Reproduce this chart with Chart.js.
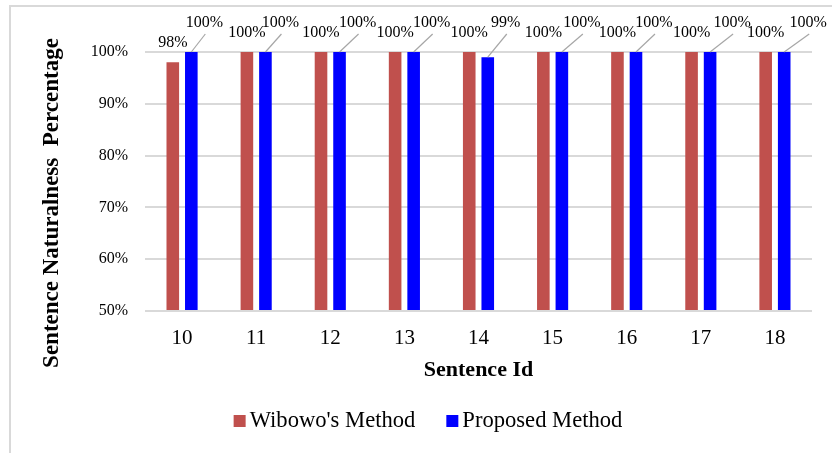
<!DOCTYPE html>
<html>
<head>
<meta charset="utf-8">
<script src="https://cdn.jsdelivr.net/npm/chart.js@4.4.1/dist/chart.umd.min.js"></script>
<style>
  html, body { margin: 0; padding: 0; background: #fff; }
  #wrap { position: relative; width: 832px; height: 453px; }
</style>
</head>
<body>
<div id="wrap"><canvas id="chart" width="832" height="453"></canvas></div>
<script>
const sentenceIds = ["10", "11", "12", "13", "14", "15", "16", "17", "18"];
const wibowoValues = [98, 100, 100, 100, 100, 100, 100, 100, 100];
const proposedValues = [100, 100, 100, 100, 99, 100, 100, 100, 100];
const yTicks = [50, 60, 70, 80, 90, 100];

const seriesNames = ["Wibowo's Method", "Proposed Method"];
const seriesColors = ["#C0504D", "#0000FF"];

// how far each blue callout label sits to the right of its bar (px)
const calloutShift = [13, 15, 18, 18, 18, 20, 18, 22, 24];

const serif = "'Liberation Serif', 'Times New Roman', serif";

// draws frame, rotated y title, value labels with leader lines and the legend
const decorPlugin = {
  id: "decor",
  beforeDraw(chart) {
    const ctx = chart.ctx;
    ctx.save();
    ctx.strokeStyle = "#d9d9d9";
    ctx.lineWidth = 2;
    ctx.strokeRect(10, 6, 840, 460);
    ctx.restore();
  },
  afterDatasetsDraw(chart) {
    const ctx = chart.ctx;
    const area = chart.chartArea;
    ctx.save();
    ctx.font = "16px " + serif;
    ctx.fillStyle = "#000";
    ctx.textAlign = "center";
    ctx.textBaseline = "alphabetic";

    // red labels straight above bars
    chart.getDatasetMeta(0).data.forEach((bar, i) => {
      ctx.fillText(wibowoValues[i] + "%", bar.x, bar.y - 15);
    });

    // blue labels moved up-right with a leader line
    chart.getDatasetMeta(1).data.forEach((bar, i) => {
      const lx = bar.x + calloutShift[i];
      const ly = area.top - 25;
      ctx.strokeStyle = "#a6a6a6";
      ctx.lineWidth = 1.2;
      ctx.beginPath();
      ctx.moveTo(bar.x, bar.y);
      ctx.lineTo(lx + 1, area.top - 18);
      ctx.stroke();
      ctx.fillText(proposedValues[i] + "%", lx, ly);
    });
    ctx.restore();
  },
  afterDraw(chart) {
    const ctx = chart.ctx;
    ctx.save();
    // y axis title
    ctx.font = "bold 23px " + serif;
    ctx.fillStyle = "#000";
    ctx.translate(58, 203);
    ctx.rotate(-Math.PI / 2);
    ctx.textAlign = "center";
    ctx.textBaseline = "alphabetic";
    ctx.fillText("Sentence Naturalness  Percentage", 0, 0);
    ctx.restore();

    // legend
    ctx.save();
    ctx.font = "22.6px " + serif;
    ctx.textBaseline = "alphabetic";
    const widths = seriesNames.map((n) => ctx.measureText(n).width);
    const total = widths[0] + widths[1] + 2 * (12 + 4) + 31;
    let x = 428 - total / 2;
    seriesNames.forEach((name, i) => {
      ctx.fillStyle = seriesColors[i];
      ctx.fillRect(x, 415, 12, 12);
      ctx.fillStyle = "#000";
      ctx.fillText(name, x + 16, 427);
      x += 16 + widths[i] + 31;
    });
    ctx.restore();
  },
};

new Chart(document.getElementById("chart"), {
  type: "bar",
  data: {
    labels: sentenceIds,
    datasets: [
      {
        label: seriesNames[0],
        data: wibowoValues,
        backgroundColor: seriesColors[0],
        base: yTicks[0],
      },
      {
        label: seriesNames[1],
        data: proposedValues,
        backgroundColor: seriesColors[1],
        base: yTicks[0],
      },
    ],
  },
  options: {
    responsive: false,
    animation: false,
    layout: { padding: { left: 91, right: 20, top: 52, bottom: 69 } },
    datasets: {
      bar: { categoryPercentage: 0.5, barPercentage: 0.68 },
    },
    plugins: {
      legend: { display: false },
      tooltip: { enabled: false },
    },
    scales: {
      x: {
        afterFit(scale) {
          scale.height = 73;
        },
        grid: { display: false, drawTicks: false },
        border: { display: false },
        ticks: {
          color: "#000",
          padding: 15,
          font: { family: serif, size: 21 },
        },
        title: {
          display: true,
          text: "Sentence Id",
          color: "#000",
          padding: { top: 9, bottom: 0 },
          font: { family: serif, size: 22, weight: "bold" },
        },
      },
      y: {
        min: yTicks[0],
        max: yTicks[yTicks.length - 1],
        afterFit(scale) {
          scale.width = 54;
        },
        afterBuildTicks(scale) {
          scale.ticks = yTicks.map((v) => ({ value: v }));
        },
        grid: { color: "#d9d9d9", lineWidth: 2, drawTicks: false },
        border: { display: false },
        ticks: {
          color: "#000",
          padding: 17,
          font: { family: serif, size: 16 },
          callback: (v) => v + "%",
        },
      },
    },
  },
  plugins: [decorPlugin],
});
</script>
</body>
</html>
